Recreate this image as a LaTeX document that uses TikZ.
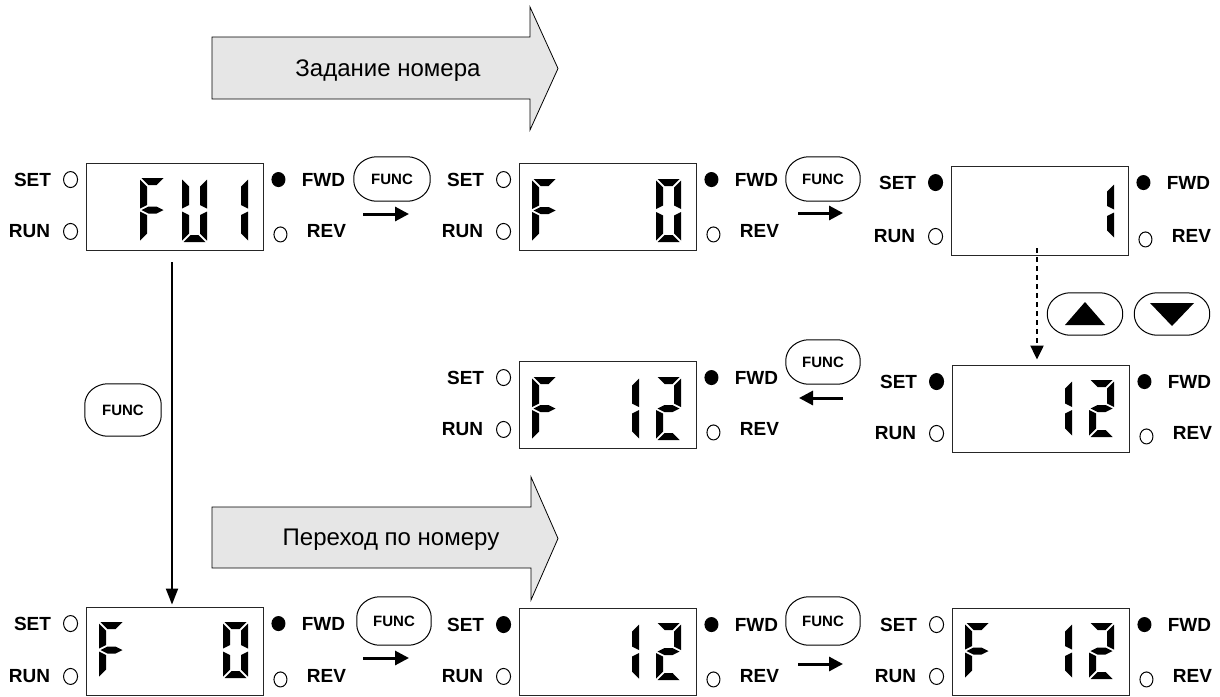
\documentclass[tikz,border=0pt]{standalone}
\usepackage{fontspec}
\setmainfont{Liberation Sans}
\usetikzlibrary{arrows.meta,shapes.geometric}
\definecolor{arrowgray}{HTML}{E6E6E6}
\tikzset{
  panel/.style={draw=black!85, line width=0.9pt, minimum width=177pt, inner sep=0pt, fill=white},
  lbl/.style={font=\bfseries\fontsize{19}{19}\selectfont, inner sep=0pt, text height=13.6pt, text depth=0pt},
  ledoff/.style={shape=ellipse, draw=black, line width=1pt, fill=white, minimum width=14pt, minimum height=16pt, inner sep=0pt},
  ledon/.style={shape=ellipse, draw=black, line width=1pt, fill=black, minimum width=14pt, minimum height=16pt, inner sep=0pt},
  btn/.style={font=\bfseries\fontsize{15}{15}\selectfont, minimum width=76pt, minimum height=44pt, inner sep=0pt, text height=10.7pt, text depth=0pt},
  btnline/.style={line width=1pt, rounded corners=8pt},
  segc/.style={fill=black},
  smallarrow/.style={line width=3pt, -{Triangle[length=14pt,width=14pt]}},
  longarrow/.style={line width=2pt, -{Triangle[length=16pt,width=12pt]}},
  dotarrow/.style={line width=2.2pt, dash pattern=on 5pt off 4pt, -{Triangle[length=14pt,width=13pt]}},
  bigarrow/.style={draw=black, line width=0.8pt, fill=arrowgray},
  arrtext/.style={font=\fontsize{24}{24}\selectfont, inner sep=0pt, text height=17pt, text depth=0pt}
}
% seven-segment pieces
\def\dw{25}\def\dt{7}\def\dg{1.5}
\def\segpa{\fill[segc] (\dg,0) -- ({\dw-\dg},0) -- ({\dw-\dg-\dt},\dt) -- ({\dg+\dt},\dt) -- cycle;}
\def\segpb{\fill[segc] (\dw,\dg) -- (\dw,{\dm-\dg}) -- ({\dw-\dt},{\dm-\dg-\dt/2}) -- ({\dw-\dt},{\dg+\dt}) -- cycle;}
\def\segpc{\fill[segc] (\dw,{\dm+\dg}) -- (\dw,{\dH-\dg}) -- ({\dw-\dt},{\dH-\dg-\dt}) -- ({\dw-\dt},{\dm+\dg+\dt/2}) -- cycle;}
\def\segpd{\fill[segc] (\dg,\dH) -- ({\dw-\dg},\dH) -- ({\dw-\dg-\dt},{\dH-\dt}) -- ({\dg+\dt},{\dH-\dt}) -- cycle;}
\def\segpe{\fill[segc] (0,{\dm+\dg}) -- (0,{\dH-\dg}) -- (\dt,{\dH-\dg-\dt}) -- (\dt,{\dm+\dg+\dt/2}) -- cycle;}
\def\segpf{\fill[segc] (0,\dg) -- (0,{\dm-\dg}) -- (\dt,{\dm-\dg-\dt/2}) -- (\dt,{\dg+\dt}) -- cycle;}
\def\segpg{\fill[segc] (\dg,\dm) -- ({\dg+\dt},{\dm-\dt/2}) -- ({\dw-\dg-\dt},{\dm-\dt/2}) -- ({\dw-\dg},\dm) -- ({\dw-\dg-\dt},{\dm+\dt/2}) -- ({\dg+\dt},{\dm+\dt/2}) -- cycle;}
\newcommand\lcd[4]{%
  \begin{scope}[shift={(#1,#2)}]
    \pgfmathsetmacro\dH{#3}\pgfmathsetmacro\dm{#3/2}
    \foreach \s in {#4}{\csname segp\s\endcsname}
  \end{scope}}
% display panel with its LEDs and labels
\newcommand\dpanel[5]{%
  \node[panel, minimum height=#4pt] (#1) at ({#2+88.5},{#3+#4/2}) {};
  \node[lbl] (#1settxt) at ([shift={(-53,17)}]#1.north west) {SET};
  \node[#5] (#1setled) at ([shift={(-15,17)}]#1.north west) {};
  \node[lbl] (#1runtxt) at ([shift={(-56,-20)}]#1.south west) {RUN};
  \node[ledoff] (#1runled) at ([shift={(-15,-19)}]#1.south west) {};
  \node[ledon, minimum width=13pt, minimum height=14pt] (#1fwdled) at ([shift={(15,17)}]#1.north east) {};
  \node[ledoff, minimum width=13pt, minimum height=15pt] (#1revled) at ([shift={(17,-16)}]#1.south east) {};
  \node[lbl] (#1fwdtxt) at ([shift={(60,17)}]#1.north east) {FWD};
  \node[lbl] (#1revtxt) at ([shift={(63,-20)}]#1.south east) {REV};
}
\newcommand\btnoutline[1]{%
  \draw[btnline] ([xshift=14pt]#1.north west) -- ([xshift=-14pt]#1.north east)
    -- ([yshift=-12pt]#1.north east) -- ([yshift=12pt]#1.south east)
    -- ([xshift=-14pt]#1.south east) -- ([xshift=14pt]#1.south west)
    -- ([yshift=12pt]#1.south west) -- ([yshift=-12pt]#1.north west) -- cycle;}
\begin{document}
\begin{tikzpicture}[x=1pt,y=-1pt]
\useasboundingbox (0,0) rectangle (1220,696);
% big arrows
\draw[bigarrow] (212,37) -- (530,37) -- (530,7) -- (558,68.5) -- (530,130) -- (530,99) -- (212,99) -- cycle;
\node[arrtext] (t1) at (388,68) {Задание номера};
\draw[bigarrow] (212,507) -- (531,507) -- (531,477) -- (558,538.5) -- (531,600) -- (531,568) -- (212,568) -- cycle;
\node[arrtext] (t2) at (391,537) {Переход по номеру};
% panels
\dpanel{p1}{86}{163}{87}{ledoff}
\lcd{140}{178}{64}{a,f,g,e}
\lcd{182}{178}{64}{b,c,d,e,f}
\lcd{223}{178}{64}{b,c}
\dpanel{p2}{519}{163}{87}{ledoff}
\lcd{532}{179}{63}{a,f,g,e}
\lcd{656}{179}{63}{a,b,c,d,e,f}
\dpanel{p3}{951}{166}{89}{ledon}
\lcd{1089}{183}{56}{b,c}
\dpanel{p4}{952}{365}{87}{ledon}
\lcd{1047}{380}{57}{b,c}
\lcd{1089}{380}{57}{a,b,g,e,d}
\dpanel{p5}{519}{361}{87}{ledoff}
\lcd{532}{377}{63}{a,f,g,e}
\lcd{614}{377}{63}{b,c}
\lcd{656}{377}{63}{a,b,g,e,d}
\dpanel{p6}{86}{607}{88}{ledoff}
\lcd{99}{622}{56}{a,f,g,e}
\lcd{223}{622}{56}{a,b,c,d,e,f}
\dpanel{p7}{519}{608}{87}{ledon}
\lcd{614}{623}{57}{b,c}
\lcd{656}{623}{57}{a,b,g,e,d}
\dpanel{p8}{952}{608}{87}{ledoff}
\lcd{965}{623}{56}{a,f,g,e}
\lcd{1047}{623}{56}{b,c}
\lcd{1089}{623}{56}{a,b,g,e,d}
% FUNC buttons
\node[btn] (f1) at (392,179) {FUNC}; \btnoutline{f1}
\node[btn, minimum width=74pt] (f2) at (823,179) {FUNC}; \btnoutline{f2}
\node[btn, minimum width=74pt] (f3) at (823,362) {FUNC}; \btnoutline{f3}
\node[btn, minimum height=52pt] (f4) at (123,410) {FUNC}; \btnoutline{f4}
\node[btn, minimum width=74pt, minimum height=48pt] (f5) at (394,621) {FUNC}; \btnoutline{f5}
\node[btn, minimum width=74pt, minimum height=48pt] (f6) at (823,621) {FUNC}; \btnoutline{f6}
% up / down buttons
\node[btn, minimum width=75pt, minimum height=42pt] (up) at (1085,314) {}; \btnoutline{up}
\fill ([shift={(-20,11)}]up.center) -- ([shift={(20,11)}]up.center) -- ([shift={(0,-12)}]up.center) -- cycle;
\node[btn, minimum width=75pt, minimum height=42pt] (dn) at (1172,314) {}; \btnoutline{dn}
\fill ([shift={(-22,-11)}]dn.center) -- ([shift={(22,-11)}]dn.center) -- ([shift={(0,12)}]dn.center) -- cycle;
% small arrows under FUNC buttons
\coordinate (a1s) at (363,214); \coordinate (a1e) at (409,214);
\draw[smallarrow] (a1s) -- (a1e);
\coordinate (a2s) at (798,213); \coordinate (a2e) at (843,213);
\draw[smallarrow] (a2s) -- (a2e);
\coordinate (a3s) at (843,398); \coordinate (a3e) at (799,398);
\draw[smallarrow] (a3s) -- (a3e);
\coordinate (a4s) at (363,658); \coordinate (a4e) at (409,658);
\draw[smallarrow] (a4s) -- (a4e);
\coordinate (a5s) at (798,664); \coordinate (a5e) at (843,664);
\draw[smallarrow] (a5s) -- (a5e);
% long vertical arrow
\coordinate (vs) at (172,262);
\draw[longarrow, shorten >=2pt] (vs) -- (vs |- p6.north);
% dotted arrow
\coordinate (ds) at (1037,248);
\draw[dotarrow, shorten >=5pt] (ds) -- (ds |- p4.north);
\end{tikzpicture}
\end{document}
